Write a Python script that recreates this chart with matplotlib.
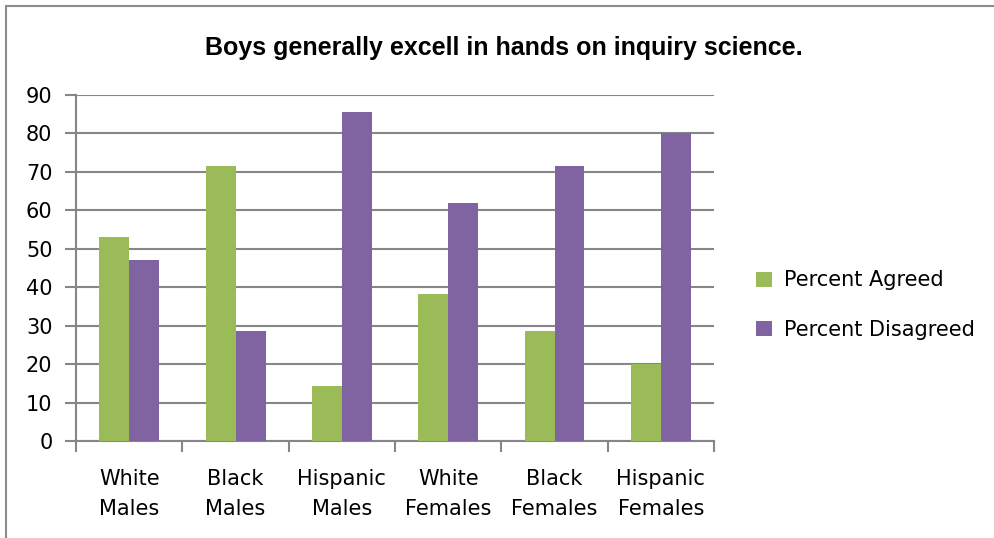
import numpy as np
import matplotlib.pyplot as plt
from matplotlib.patches import Rectangle

# Date
categories = ['White\nMales', 'Black\nMales', 'Hispanic\nMales',
              'White\nFemales', 'Black\nFemales', 'Hispanic\nFemales']
agreed = [53, 71.5, 14.3, 38.2, 28.5, 20]
disagreed = [47, 28.5, 85.7, 61.8, 71.5, 80]
yticks = [0, 10, 20, 30, 40, 50, 60, 70, 80, 90]

green = '#9BBB59'
purple = '#8064A2'
grid_c = '#868686'

fig = plt.figure(figsize=(9.94, 5.38), dpi=100)
ax = fig.add_axes([0.0765, 0.1803, 0.6418, 0.6431])

x = np.arange(len(categories))
w = 0.282
ax.bar(x - w / 2, agreed, w, color=green, label='Percent Agreed', zorder=3)
ax.bar(x + w / 2, disagreed, w, color=purple, label='Percent Disagreed', zorder=3)

ax.set_xlim(-0.5, len(categories) - 0.5)
ax.set_ylim(0, 90)
ax.set_yticks(yticks)
ax.yaxis.grid(True, color=grid_c, linewidth=1.5, zorder=0)
ax.set_axisbelow(True)

for s in ['top', 'right']:
    ax.spines[s].set_visible(False)
ax.spines['left'].set_color(grid_c)
ax.spines['bottom'].set_color(grid_c)
ax.spines['left'].set_linewidth(1.5)
ax.spines['bottom'].set_linewidth(1.5)

# ticks: y ticks out, x ticks at category boundaries
ax.tick_params(axis='y', length=8, width=1.5, color=grid_c, labelsize=15, pad=9)
ax.set_xticks(x)
ax.set_xticklabels(categories, fontsize=15, linespacing=1.65)
ax.tick_params(axis='x', length=0, pad=20)
ax.set_xticks(np.arange(-0.5, len(categories)), minor=True)
ax.tick_params(axis='x', which='minor', length=8, width=1.5, color=grid_c)

fig.text(0.507, 0.91, 'Boys generally excell in hands on inquiry science.',
         ha='center', va='center', fontsize=18, fontweight='bold',
         family=['Liberation Sans', 'DejaVu Sans'])

leg = fig.legend(loc='center left', bbox_to_anchor=(0.742, 0.433), frameon=False,
                 fontsize=15, handlelength=0.75, handleheight=0.75,
                 handletextpad=0.6, labelspacing=1.4)

# chenar figura
fig.patches.append(Rectangle((6 / 994, -0.1), 1.2, 1.1 - 6 / 538,
                             transform=fig.transFigure, fill=False,
                             edgecolor='#8c8c8c', linewidth=1.5))

fig.savefig('out.png', dpi=100)
